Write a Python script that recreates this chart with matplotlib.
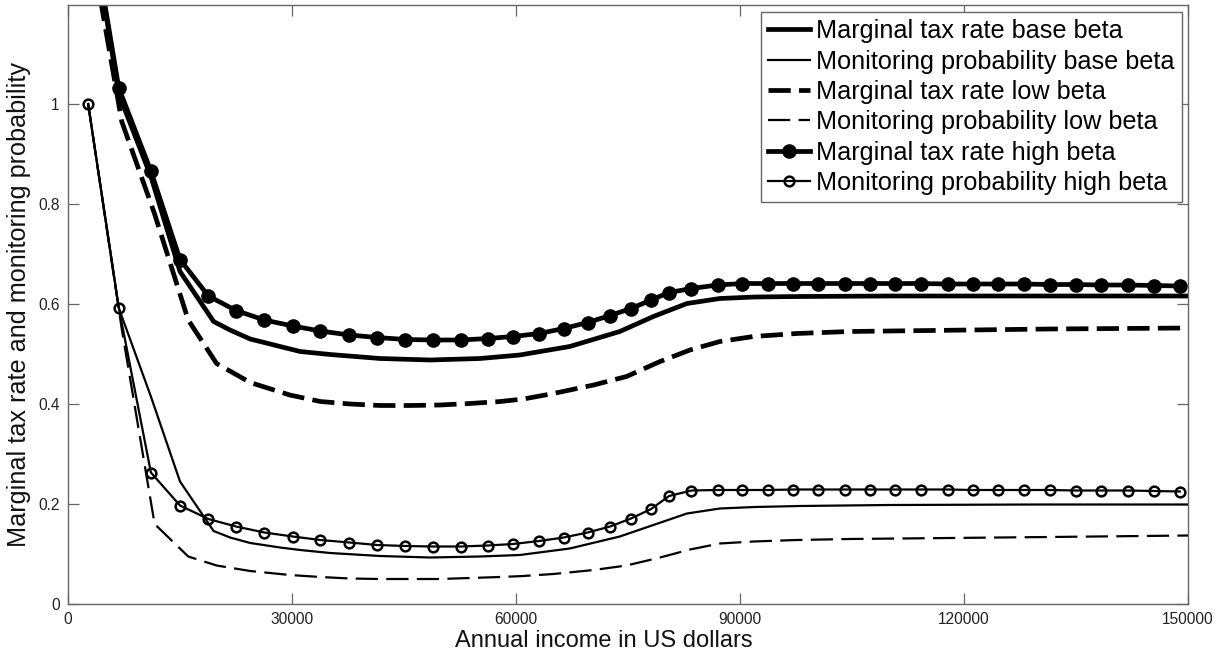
import matplotlib
matplotlib.use("Agg")
import matplotlib.pyplot as plt

plt.rcParams['font.family'] = ['Liberation Sans', 'DejaVu Sans']
plt.rcParams['lines.scale_dashes'] = False

# ---- data (income in US dollars) ----
x_high = [2700, 6800, 11100, 15000, 18800, 22500, 26300, 30100, 33800, 37700,
          41400, 45200, 48900, 52600, 56200, 59600, 63100, 66400, 69600, 72600,
          75400, 78100, 80500, 83500, 87000, 90300, 93700, 97100, 100500, 104000,
          107400, 110800, 114200, 117800, 121200, 124600, 128000, 131500, 135000, 138400,
          141900, 145400, 148900]
tax_high = [1.40, 1.032, 0.866, 0.689, 0.616, 0.587, 0.568, 0.556, 0.546, 0.538,
            0.533, 0.529, 0.528, 0.528, 0.531, 0.535, 0.541, 0.551, 0.563, 0.577,
            0.591, 0.608, 0.623, 0.631, 0.638, 0.641, 0.641, 0.641, 0.641, 0.641,
            0.641, 0.641, 0.641, 0.640, 0.640, 0.640, 0.640, 0.639, 0.639, 0.638,
            0.638, 0.637, 0.636]
mon_high = [1.0, 0.593, 0.263, 0.197, 0.170, 0.155, 0.143, 0.135, 0.128, 0.123,
            0.118, 0.116, 0.115, 0.115, 0.117, 0.120, 0.126, 0.133, 0.143, 0.155,
            0.171, 0.190, 0.216, 0.227, 0.228, 0.228, 0.228, 0.229, 0.229, 0.229,
            0.229, 0.229, 0.229, 0.229, 0.228, 0.228, 0.228, 0.228, 0.227, 0.227,
            0.227, 0.226, 0.225]

x_base = [2700, 6800, 11100, 15000, 19500, 21700, 24400, 28400, 31100, 35100,
          41800, 48500, 55200, 60500, 67200, 73900, 78400, 82900, 87300, 92000,
          98000, 110000, 130000, 150000]
tax_base = [1.40, 1.02, 0.855, 0.665, 0.565, 0.548, 0.530, 0.515, 0.505, 0.499,
            0.491, 0.488, 0.491, 0.498, 0.515, 0.545, 0.575, 0.601, 0.611, 0.614,
            0.615, 0.616, 0.616, 0.616]
mon_base = [1.0, 0.592, 0.415, 0.245, 0.146, 0.133, 0.122, 0.113, 0.108, 0.102,
            0.096, 0.093, 0.095, 0.098, 0.111, 0.135, 0.158, 0.181, 0.191, 0.194,
            0.196, 0.198, 0.199, 0.199]

x_low = [2700, 7200, 11600, 16100, 19900, 24400, 29700, 33800, 37800, 41800,
         45800, 49800, 53800, 57900, 61000, 65000, 70400, 74800, 79300, 83300,
         87300, 91800, 97600, 104700, 131500, 150000]
tax_low = [1.35, 0.965, 0.78, 0.568, 0.481, 0.443, 0.418, 0.405, 0.400, 0.397,
           0.397, 0.398, 0.401, 0.405, 0.410, 0.421, 0.438, 0.455, 0.485, 0.508,
           0.525, 0.535, 0.541, 0.545, 0.550, 0.552]
mon_low = [1.0, 0.55, 0.16, 0.095, 0.077, 0.066, 0.058, 0.054, 0.051, 0.050,
           0.050, 0.050, 0.052, 0.054, 0.056, 0.060, 0.068, 0.077, 0.093, 0.109,
           0.121, 0.125, 0.128, 0.130, 0.134, 0.137]

labels = ["Marginal tax rate base beta", "Monitoring probability base beta",
          "Marginal tax rate low beta", "Monitoring probability low beta",
          "Marginal tax rate high beta", "Monitoring probability high beta"]
x_ticks = [0, 30000, 60000, 90000, 120000, 150000]
y_ticks = [0, 0.2, 0.4, 0.6, 0.8, 1.0]
y_ticklabels = ["0", "0.2", "0.4", "0.6", "0.8", "1"]

# ---- figure ----
fig = plt.figure(figsize=(12.26, 6.57), dpi=100)
ax = fig.add_axes([68/1226, 53/657, 1120/1226, 599/657])

thick = 3.4
thin = 1.6
ax.plot(x_base, tax_base, color='black', lw=thick, label=labels[0])
ax.plot(x_base, mon_base, color='black', lw=thin, label=labels[1])
ax.plot(x_low, tax_low, color='black', lw=thick, ls=(0, (16, 6)), label=labels[2])
ax.plot(x_low, mon_low, color='black', lw=thin, ls=(0, (16, 6)), label=labels[3])
ax.plot(x_high, tax_high, color='black', lw=thick, marker='o', ms=9.5,
        mfc='black', mec='black', label=labels[4])
ax.plot(x_high, mon_high, color='black', lw=thin, marker='o', ms=7,
        mfc='none', mec='black', mew=1.8, label=labels[5])

ax.set_xlim(0, 150000)
ax.set_ylim(0, 1.198)
ax.set_xticks(x_ticks)
ax.set_xticklabels([str(v) for v in x_ticks])
ax.set_yticks(y_ticks)
ax.set_yticklabels(y_ticklabels)

gray = '0.4'
for s in ax.spines.values():
    s.set_color(gray)
    s.set_linewidth(1.0)
ax.tick_params(direction='in', length=8, width=0.9, color=gray,
               top=True, right=True, labelsize=11.2, labelcolor='#222222', pad=6)

ax.set_xlabel("Annual income in US dollars", fontsize=17, color='#111111')
ax.xaxis.set_label_coords(0.478, -0.043)
ax.set_ylabel("Marginal tax rate and monitoring probability", fontsize=18.2, color='#111111')
ax.yaxis.set_label_coords(-0.033, 0.5)

leg = ax.legend(loc='upper right', bbox_to_anchor=(0.9944, 0.9888), borderaxespad=0,
                fontsize=18.2, handlelength=1.65, handletextpad=0.22, borderpad=0.3,
                labelspacing=0.25, fancybox=False, framealpha=1, edgecolor=gray)
leg.get_frame().set_linewidth(1.0)

fig.savefig("out.png", dpi=100)
